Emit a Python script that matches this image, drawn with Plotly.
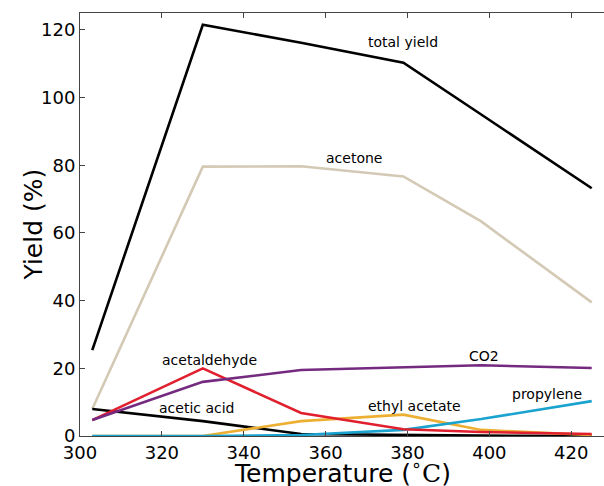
import plotly.graph_objects as go

temps = [303, 330, 354, 379, 398, 425]
total_yield = [25.4, 121.5, 116.2, 110.3, 95.0, 73.2]
acetone = [8.0, 79.6, 79.7, 76.7, 63.4, 39.5]
co2 = [4.7, 16.0, 19.5, 20.3, 20.9, 20.1]
acetaldehyde = [4.7, 20.0, 6.8, 2.0, 1.2, 0.6]
acetic_acid = [8.0, 4.4, 0.6, 0.3, 0.1, 0.0]
ethyl_acetate = [0.0, 0.0, 4.4, 6.3, 1.8, 0.3]
propylene = [0.0, 0.0, 0.3, 1.8, 5.0, 10.3]

series = [
    ("total yield", total_yield, "#000000"),
    ("acetone", acetone, "#d3c9b5"),
    ("acetic acid", acetic_acid, "#000000"),
    ("ethyl acetate", ethyl_acetate, "#edaf32"),
    ("propylene", propylene, "#1ba3cf"),
    ("acetaldehyde", acetaldehyde, "#e0202f"),
    ("CO2", co2, "#742a7f"),
]

label_text = ["total yield", "acetone", "acetaldehyde", "acetic acid", "CO2", "ethyl acetate", "propylene"]
label_x = [379.0, 367.0, 331.7, 328.5, 398.8, 381.7, 414.0]
label_y = [116.5, 82.3, 22.4, 8.3, 23.6, 8.8, 12.4]

fig = go.Figure()
for name, vals, color in series:
    fig.add_trace(go.Scatter(x=temps, y=vals, mode="lines", name=name,
                             line=dict(color=color, width=2.6), showlegend=False))

for t, x, y in zip(label_text, label_x, label_y):
    fig.add_annotation(x=x, y=y, text=t, showarrow=False,
                       font=dict(family="DejaVu Sans", size=14, color="#000"))

# axis titles as annotations for precise placement
fig.add_annotation(xref="paper", yref="paper", x=0.5, y=0, yshift=-35, yanchor="middle",
                   text="Temperature (<sup>∘</sup><span style='font-family:DejaVu Serif'>C</span>)",
                   showarrow=False, font=dict(family="DejaVu Sans", size=25, color="#000"))
fig.add_annotation(xref="paper", yref="paper", x=0, xshift=-47, y=0.5, xanchor="center",
                   text="Yield (%)", textangle=-90,
                   showarrow=False, font=dict(family="DejaVu Sans", size=25, color="#000"))

fig.update_layout(
    width=604, height=486,
    margin=dict(l=80, r=0, t=13, b=50),
    plot_bgcolor="white", paper_bgcolor="white",
    font=dict(family="DejaVu Sans", color="#000"),
)
fig.update_xaxes(range=[300, 428], tickvals=[300, 320, 340, 360, 380, 400, 420],
                 ticks="inside", ticklen=5, tickcolor="#444", mirror="ticks",
                 showline=True, linecolor="#444", linewidth=1, showgrid=False, zeroline=False,
                 tickfont=dict(size=18), automargin=False)
fig.update_yaxes(range=[0, 125], tickvals=[0, 20, 40, 60, 80, 100, 120],
                 ticks="inside", ticklen=5, tickcolor="#444",
                 showline=True, linecolor="#444", linewidth=1, showgrid=False, zeroline=False,
                 tickfont=dict(size=18), automargin=False)

fig.write_html("out.html", config={"displayModeBar": False},
               post_script="document.body.style.margin='0';document.body.style.overflow='hidden';")
